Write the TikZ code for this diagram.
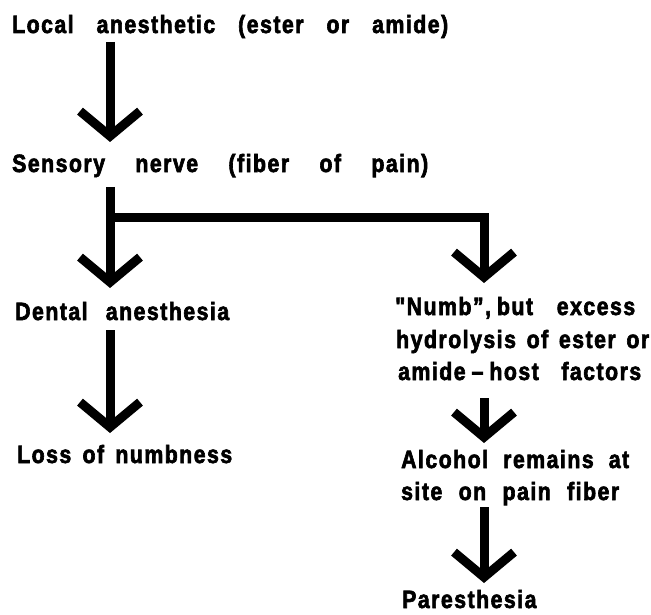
\documentclass[tikz,border=0pt]{standalone}
\usepackage{fontspec}
\newfontfamily\lblfont{Liberation Sans Bold}[FakeStretch=0.85, LetterSpace=6, FakeBold=2.5]
\usetikzlibrary{arrows.meta,calc}
\begin{document}
\begin{tikzpicture}[x=1pt,y=-1pt,
  lbl/.style={anchor=base west, inner sep=0pt, font=\fontsize{25}{25}\lblfont},
  arr/.style={line width=9pt, -{Straight Barb[length=25pt,width=60pt]}}]
\useasboundingbox (0,0) rectangle (651,615);
% left column
\node[lbl] (loc)  at (12,33)  {\makebox[436pt][s]{Local anesthetic (ester or amide)}};
\node[lbl] (sen)  at (12,172) {\makebox[416pt][s]{Sensory nerve (fiber of pain)}};
\node[lbl] (dent) at (15,320) {\makebox[214pt][s]{Dental anesthesia}};
\node[lbl] (loss) at (17,463) {\makebox[215pt][s]{Loss of numbness}};
% right column
\node[lbl] (numb) at (395,315) {\makebox[240pt][s]{"Numb”,\kern6pt but excess}};
\node[lbl] (hyd)  at (396,348) {\makebox[253pt][s]{hydrolysis of ester or}};
\node[lbl] (ami)  at (398,380) {\makebox[243pt][s]{amide\kern6pt–\kern6pt host factors}};
\node[lbl] (alc)  at (401,468) {\makebox[228pt][s]{Alcohol remains at}};
\node[lbl] (site) at (401,500) {\makebox[218pt][s]{site on pain fiber}};
\node[lbl] (par)  at (402,608) {Paresthesia};
% columns
\coordinate (colL) at (110,0);
\coordinate (colR) at (484,0);
% connectors
\draw[arr] ($(loc.base -| colL)+(0,9)$) -- ($(sen.base -| colL)+(0,-30)$);
\draw[arr] ($(sen.base -| colL)+(0,15)$) -- ($(dent.base -| colL)+(0,-32)$);
\coordinate (junc) at ($(sen.base -| colL)+(0,45)$);
\draw[arr] (junc) -| ($(numb.base -| colR)+(0,-32)$);
\draw[arr] ($(dent.base -| colL)+(0,10)$) -- ($(loss.base -| colL)+(0,-30)$);
\draw[arr] ($(ami.base -| colR)+(0,18)$) -- ($(alc.base -| colR)+(0,-25)$);
\draw[arr] ($(site.base -| colR)+(0,7)$) -- ($(par.base -| colR)+(0,-25)$);
\end{tikzpicture}
\end{document}
